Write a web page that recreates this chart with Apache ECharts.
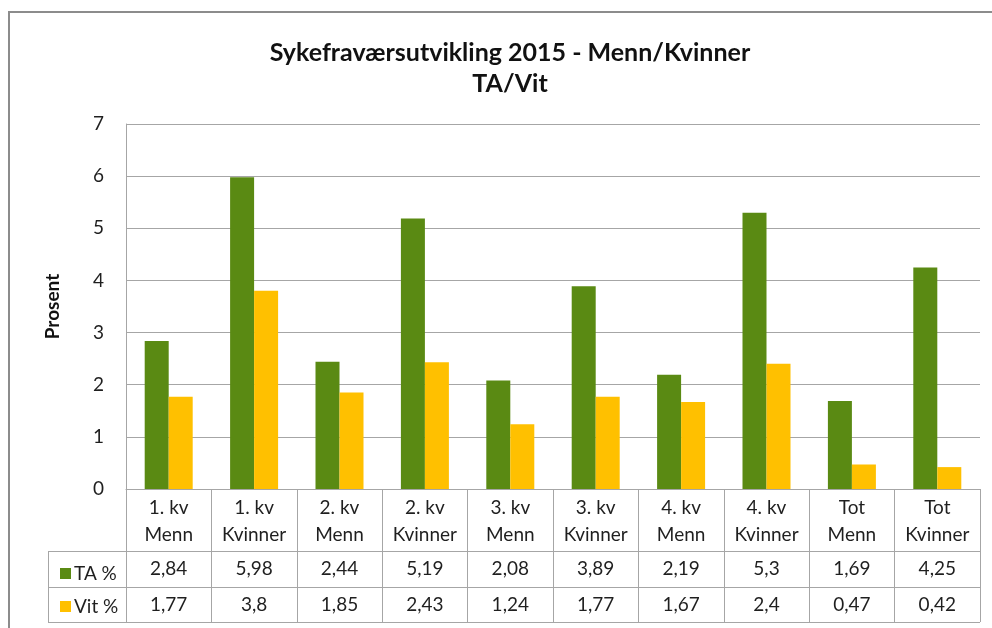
<!DOCTYPE html>
<html>
<head>
<meta charset="utf-8">
<script src="https://cdn.jsdelivr.net/npm/echarts@6/dist/echarts.min.js"></script>
<style>
html, body { margin: 0; padding: 0; background: #fff; }
#chart { width: 992px; height: 628px; }
</style>
</head>
<body>
<div id="chart"></div>
<script>
var categories = ['1. kv\nMenn', '1. kv\nKvinner', '2. kv\nMenn', '2. kv\nKvinner', '3. kv\nMenn',
	'3. kv\nKvinner', '4. kv\nMenn', '4. kv\nKvinner', 'Tot\nMenn', 'Tot\nKvinner'];
var taValues = [2.84, 5.98, 2.44, 5.19, 2.08, 3.89, 2.19, 5.3, 1.69, 4.25];
var vitValues = [1.77, 3.8, 1.85, 2.43, 1.24, 1.77, 1.67, 2.4, 0.47, 0.42];
var yTicks = [0, 1, 2, 3, 4, 5, 6, 7];

var font = 'Lato, "Open Sans", sans-serif';
var gridColor = '#a6a6a6';
var textColor = '#1f1f1f';

function comma(v) {
	return String(v).replace('.', ',');
}

var chart = echarts.init(document.getElementById('chart'));

// one extra category axis per table row, pushed down with offset
function tableAxis(offset, len, values) {
	return {
		type: 'category',
		data: categories,
		position: 'bottom',
		offset: offset,
		axisLine: { show: true, lineStyle: { color: gridColor, width: 1 } },
		axisTick: { show: true, interval: 0, length: len, lineStyle: { color: gridColor } },
		axisLabel: {
			interval: 0, margin: 8, fontSize: 19, fontFamily: font, color: textColor,
			formatter: function (v, i) { return comma(values[i]); }
		}
	};
}

var option = {
	animation: false,
	title: {
		text: 'Sykefraværsutvikling 2015 - Menn/Kvinner\nTA/Vit',
		left: 505,
		top: 32,
		textAlign: 'center',
		textStyle: { fontSize: 25, fontWeight: 'bold', fontFamily: font, color: '#111', lineHeight: 31 }
	},
	legend: {
		orient: 'vertical',
		left: 55,
		top: 559,
		itemGap: 14,
		itemWidth: 11,
		itemHeight: 11,
		icon: 'rect',
		textStyle: { fontSize: 19, fontFamily: font, color: textColor, padding: [0, 0, 0, -2] },
		data: ['TA %', 'Vit %']
	},
	grid: { left: 126, right: 12, top: 124, bottom: 139 },
	xAxis: [
		{
			type: 'category',
			data: categories,
			axisLine: { show: true, lineStyle: { color: gridColor, width: 1 } },
			axisTick: { show: true, interval: 0, length: 62, lineStyle: { color: gridColor } },
			axisLabel: { interval: 0, margin: 5, fontSize: 19, lineHeight: 27, fontFamily: font, color: textColor }
		},
		tableAxis(62, 36, taValues),
		tableAxis(98, 35, vitValues)
	],
	yAxis: {
		type: 'value',
		min: yTicks[0],
		max: yTicks[yTicks.length - 1],
		interval: 1,
		name: 'Prosent',
		nameLocation: 'middle',
		nameGap: 64,
		nameTextStyle: { fontSize: 19, fontWeight: 'bold', fontFamily: font, color: '#111' },
		axisLine: { show: true, lineStyle: { color: gridColor } },
		axisTick: { show: false },
		axisLabel: { margin: 22, fontSize: 19, fontFamily: font, color: textColor },
		splitLine: { lineStyle: { color: gridColor, width: 1 } }
	},
	series: [
		{ name: 'TA %', type: 'bar', data: taValues, barWidth: 24, barGap: '0%', itemStyle: { color: '#5a8a13' } },
		{ name: 'Vit %', type: 'bar', data: vitValues, barWidth: 24, barGap: '0%', itemStyle: { color: '#ffc000' } }
	],
	graphic: [
		{ type: 'polyline', shape: { points: [[9, 640], [9, 12], [992, 12]] }, style: { stroke: '#8c8c8c', lineWidth: 2, fill: null } },
		{ type: 'line', shape: { x1: 48, y1: 551.5, x2: 126, y2: 551.5 }, style: { stroke: gridColor, lineWidth: 1 } },
		{ type: 'line', shape: { x1: 48, y1: 587.5, x2: 126, y2: 587.5 }, style: { stroke: gridColor, lineWidth: 1 } },
		{ type: 'line', shape: { x1: 48, y1: 622.5, x2: 980, y2: 622.5 }, style: { stroke: gridColor, lineWidth: 1 } },
		{ type: 'line', shape: { x1: 48.5, y1: 551, x2: 48.5, y2: 623 }, style: { stroke: gridColor, lineWidth: 1 } }
	]
};

chart.setOption(option);
</script>
</body>
</html>
